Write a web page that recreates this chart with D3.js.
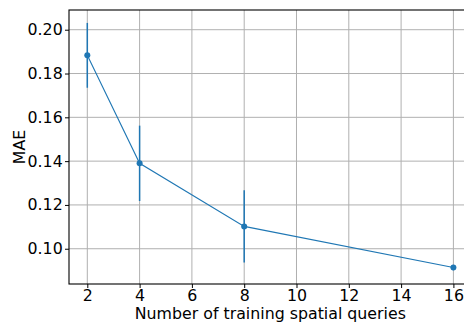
<!DOCTYPE html>
<html>
<head>
<meta charset="utf-8">
<script src="https://cdn.jsdelivr.net/npm/d3@7"></script>
<style>
  html, body { margin: 0; padding: 0; background: #fff; }
  svg { display: block; font-family: "DejaVu Sans", sans-serif; }
</style>
</head>
<body>
<div id="chart"></div>
<script>
// ─── DONNÉES ──────────────────────────────────────────────────────────────────
const queries = [2, 4, 8, 16];
const mae     = [0.1883, 0.1390, 0.1102, 0.0914];
const maeErr  = [0.0148, 0.0172, 0.0165, 0.0012];
const xTicks  = [2, 4, 6, 8, 10, 12, 14, 16];
const yTicks  = [0.10, 0.12, 0.14, 0.16, 0.18, 0.20];

const xLabel = "Number of training spatial queries";
const yLabel = "MAE";

const color = "#1f77b4";
const grid  = "#b0b0b0";
const fontSize = "15.8px";

// ─── DIMENSIONS ───────────────────────────────────────────────────────────────
const width = 464, height = 322;
const plot = { left: 69, top: 10, right: 471.7, bottom: 284 };

const svg = d3.select("#chart").append("svg")
    .attr("width", width)
    .attr("height", height);

const x = d3.scaleLinear().domain([1.3, 16.7]).range([plot.left, plot.right]);
const y = d3.scaleLinear().domain([0.0839, 0.209]).range([plot.bottom, plot.top]);

// Grille
svg.append("g")
    .selectAll("line")
    .data(xTicks)
    .join("line")
    .attr("x1", d => x(d)).attr("x2", d => x(d))
    .attr("y1", plot.top).attr("y2", plot.bottom)
    .attr("stroke", grid).attr("stroke-width", 1);

svg.append("g")
    .selectAll("line")
    .data(yTicks)
    .join("line")
    .attr("x1", plot.left).attr("x2", plot.right)
    .attr("y1", d => y(d)).attr("y2", d => y(d))
    .attr("stroke", grid).attr("stroke-width", 1);

// Axes
svg.append("g")
    .attr("transform", `translate(0,${plot.bottom})`)
    .call(d3.axisBottom(x).tickValues(xTicks).tickSize(4).tickPadding(1.5).tickFormat(d3.format("d")))
    .call(g => g.select(".domain").remove())
    .call(g => g.selectAll(".tick line").attr("stroke", "#000").attr("stroke-width", 1))
    .call(g => g.selectAll("text").style("font-size", fontSize).style("font-family", "'DejaVu Sans'").attr("fill", "#000"));

svg.append("g")
    .attr("transform", `translate(${plot.left},0)`)
    .call(d3.axisLeft(y).tickValues(yTicks).tickSize(4).tickPadding(2.3).tickFormat(d3.format(".2f")))
    .call(g => g.select(".domain").remove())
    .call(g => g.selectAll(".tick line").attr("stroke", "#000").attr("stroke-width", 1))
    .call(g => g.selectAll("text").style("font-size", fontSize).style("font-family", "'DejaVu Sans'").attr("fill", "#000"));

// Cadre (côté droit hors image)
svg.append("rect")
    .attr("x", plot.left).attr("y", plot.top)
    .attr("width", plot.right - plot.left).attr("height", plot.bottom - plot.top)
    .attr("fill", "none").attr("stroke", "#000").attr("stroke-width", 1.1);

// Barres d'erreur
svg.append("g")
    .selectAll("line")
    .data(queries)
    .join("line")
    .attr("x1", d => x(d)).attr("x2", d => x(d))
    .attr("y1", (d, i) => y(mae[i] - maeErr[i]))
    .attr("y2", (d, i) => y(mae[i] + maeErr[i]))
    .attr("stroke", color).attr("stroke-width", 1.5);

// Ligne
svg.append("path")
    .datum(queries)
    .attr("fill", "none")
    .attr("stroke", color)
    .attr("stroke-width", 1.1)
    .attr("d", d3.line().x(d => x(d)).y((d, i) => y(mae[i])));

// Points
svg.append("g")
    .selectAll("circle")
    .data(queries)
    .join("circle")
    .attr("cx", d => x(d))
    .attr("cy", (d, i) => y(mae[i]))
    .attr("r", 3)
    .attr("fill", color);

// Titres des axes
svg.append("text")
    .attr("x", (plot.left + plot.right) / 2).attr("y", 319)
    .attr("text-anchor", "middle")
    .style("font-size", fontSize)
    .text(xLabel);

svg.append("text")
    .attr("transform", `translate(24.5,${(plot.top + plot.bottom) / 2}) rotate(-90)`)
    .attr("text-anchor", "middle")
    .style("font-size", fontSize)
    .text(yLabel);
</script>
</body>
</html>
